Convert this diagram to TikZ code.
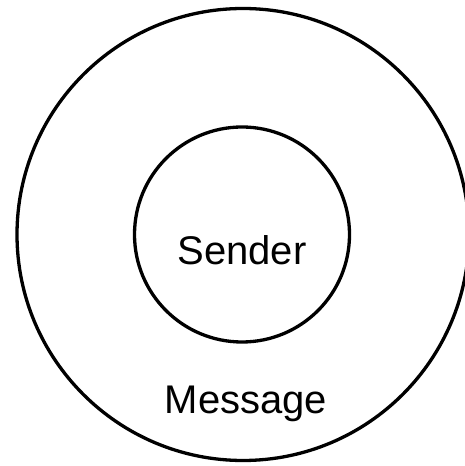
\documentclass[tikz,border=0pt]{standalone}
\usepackage{fontspec}
\setmainfont{Liberation Sans}
\begin{document}
\begin{tikzpicture}[x=1pt,y=1pt,
  ring/.style={draw=black,line width=3.3pt,circle,inner sep=0pt},
  lbl/.style={anchor=base,inner sep=0pt,font=\fontsize{40}{48}\selectfont}]
\useasboundingbox (0,0) rectangle (464,466);
\node[ring,minimum size=452pt] (outer) at (243,231.5) {};
\node[ring,minimum size=215pt] (inner) at (242,231.5) {};
\node[lbl] (sender) at (242,201) {Sender};
\node[lbl] (message) at (246,52) {Message};
\end{tikzpicture}
\end{document}
